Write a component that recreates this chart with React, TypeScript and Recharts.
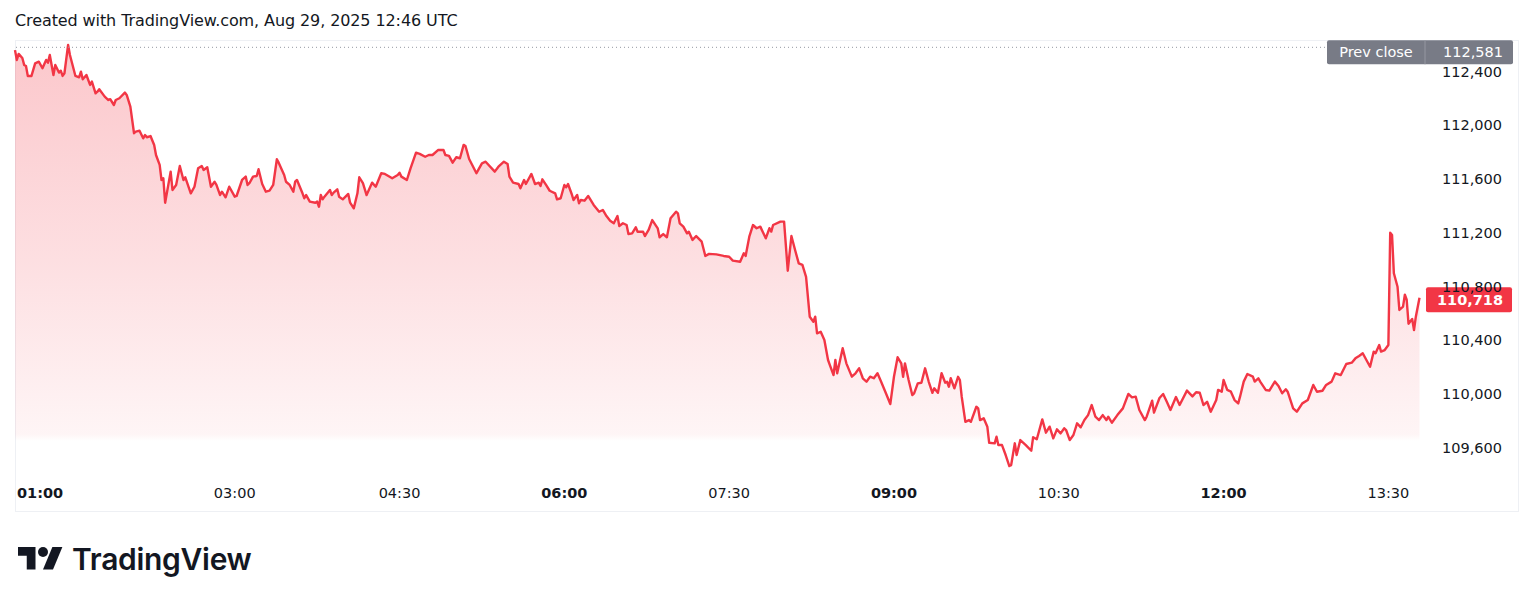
import React from "react";
import { AreaChart, Area, XAxis, YAxis, ReferenceLine } from "recharts";

// minutes since midnight (UTC+1 session clock)
const times = [
  60, 61, 62, 64, 65, 66, 67, 69, 71, 73,
  75, 77, 78, 79, 81, 82, 84, 85, 86, 87,
  89, 90, 93, 95, 96, 97, 99, 101, 102, 104,
  105, 106, 109, 111, 112, 114, 115, 117, 120, 121,
  123, 125, 126, 128, 130, 131, 132, 134, 136, 137,
  139, 140, 141, 142, 145, 146, 148, 150, 152, 153,
  156, 158, 160, 162, 163, 165, 167, 169, 170, 172,
  173, 175, 177, 180, 181, 184, 186, 187, 188, 190,
  192, 193, 195, 197, 199, 201, 203, 204, 207, 208,
  210, 212, 213, 214, 217, 218, 219, 221, 224, 225,
  226, 227, 228, 229, 232, 233, 234, 236, 237, 239,
  242, 243, 245, 247, 248, 250, 252, 255, 257, 260,
  262, 266, 269, 270, 271, 274, 276, 279, 281, 284,
  286, 288, 291, 294, 295, 297, 299, 301, 303, 305,
  306, 308, 312, 313, 315, 317, 322, 324, 327, 329,
  330, 332, 335, 336, 338, 339, 342, 344, 346, 347,
  348, 350, 352, 355, 356, 358, 360, 361, 362, 364,
  365, 367, 368, 369, 371, 373, 376, 379, 381, 383,
  385, 387, 389, 390, 392, 394, 395, 397, 399, 400,
  403, 404, 406, 408, 411, 412, 414, 416, 418, 421,
  422, 423, 425, 427, 428, 430, 432, 435, 437, 439,
  443, 447, 450, 452, 456, 458, 459, 461, 463, 465,
  467, 470, 472, 473, 474, 478, 480, 482, 484, 486,
  488, 490, 492, 494, 496, 497, 498, 500, 502, 504,
  505, 507, 508, 509, 512, 514, 517, 519, 521, 523,
  525, 527, 529, 531, 533, 536, 538, 540, 542, 544,
  545, 546, 548, 550, 551, 553, 555, 557, 559, 561,
  562, 564, 566, 568, 569, 570, 571, 573, 575, 576,
  577, 579, 581, 582, 585, 586, 587, 589, 591, 592,
  595, 596, 597, 599, 601, 603, 604, 606, 607, 609,
  612, 615, 616, 618, 621, 623, 625, 627, 629, 631,
  633, 634, 636, 638, 640, 642, 644, 646, 648, 650,
  652, 654, 656, 657, 659, 662, 665, 668, 670, 672,
  674, 677, 678, 681, 682, 685, 687, 689, 691, 694,
  696, 700, 703, 705, 707, 709, 711, 713, 716, 717,
  719, 720, 722, 724, 726, 728, 729, 731, 733, 736,
  737, 739, 740, 743, 745, 748, 750, 752, 754, 755,
  758, 760, 763, 766, 769, 771, 774, 776, 779, 781,
  784, 787, 790, 792, 794, 796, 798, 800, 802, 803,
  805, 806, 808, 810, 811, 812, 813, 815, 816, 818,
  819, 820, 821, 823, 824, 825, 827,
];

const prices = [
  112560, 112487, 112532, 112502, 112450, 112442, 112368, 112368, 112462, 112474,
  112425, 112487, 112467, 112524, 112375, 112450, 112393, 112407, 112368, 112388,
  112599, 112524, 112368, 112358, 112400, 112343, 112375, 112301, 112326, 112239,
  112251, 112269, 112214, 112189, 112195, 112152, 112189, 112202, 112244, 112227,
  112140, 111942, 111954, 111961, 111904, 111929, 111912, 111921, 111854, 111780,
  111706, 111594, 111607, 111425, 111656, 111520, 111557, 111698, 111594, 111614,
  111495, 111544, 111681, 111698, 111669, 111689, 111544, 111581, 111557, 111482,
  111507, 111465, 111544, 111470, 111475, 111594, 111619, 111557, 111570, 111619,
  111624, 111674, 111564, 111507, 111515, 111557, 111748, 111723, 111631, 111581,
  111557, 111507, 111581, 111594, 111495, 111458, 111482, 111433, 111425, 111433,
  111395, 111482, 111450, 111470, 111520, 111482, 111500, 111525, 111470, 111450,
  111490, 111425, 111383, 111495, 111614, 111570, 111482, 111574, 111544, 111644,
  111639, 111607, 111631, 111648, 111619, 111594, 111681, 111797, 111788, 111767,
  111780, 111780, 111817, 111817, 111780, 111773, 111723, 111763, 111756, 111855,
  111847, 111750, 111644, 111669, 111718, 111730, 111656, 111693, 111730, 111713,
  111619, 111574, 111564, 111532, 111594, 111564, 111639, 111564, 111574, 111549,
  111599, 111557, 111514, 111495, 111450, 111458, 111557, 111540, 111564, 111490,
  111445, 111482, 111421, 111445, 111440, 111475, 111408, 111358, 111371, 111326,
  111291, 111272, 111326, 111252, 111272, 111259, 111192, 111197, 111242, 111209,
  111209, 111177, 111222, 111296, 111234, 111168, 111192, 111168, 111309, 111358,
  111346, 111272, 111247, 111197, 111209, 111148, 111177, 111135, 111029, 111044,
  111041, 111029, 111023, 110994, 110986, 111049, 111029, 111172, 111259, 111235,
  111247, 111160, 111235, 111210, 111259, 111284, 111284, 110919, 111177, 111073,
  110974, 110962, 110874, 110577, 110540, 110577, 110453, 110465, 110404, 110255,
  110217, 110143, 110255, 110156, 110342, 110230, 110131, 110156, 110193, 110119,
  110093, 110131, 110119, 110156, 110093, 109994, 109927, 110130, 110275, 110230,
  110130, 110230, 110106, 109994, 110007, 110081, 110086, 110193, 110093, 110011,
  110044, 110011, 110156, 110086, 110093, 110056, 110119, 110044, 110130, 110106,
  109982, 109795, 109808, 109795, 109907, 109895, 109808, 109821, 109758, 109639,
  109635, 109684, 109622, 109622, 109548, 109466, 109473, 109635, 109548, 109659,
  109622, 109580, 109680, 109665, 109813, 109714, 109759, 109672, 109739, 109709,
  109747, 109734, 109659, 109697, 109784, 109754, 109808, 109845, 109920, 109833,
  109808, 109845, 109808, 109833, 109788, 109845, 109895, 110002, 109977, 109982,
  109883, 109808, 109833, 109952, 109863, 109972, 110002, 109944, 109883, 109979,
  109920, 110027, 109984, 110015, 110011, 109920, 109944, 109870, 109957, 110032,
  110019, 110106, 110032, 110019, 109957, 109932, 109982, 110094, 110151, 110131,
  110094, 110119, 110094, 110032, 110027, 110094, 110061, 110007, 110037, 110019,
  109895, 109870, 109932, 109957, 110069, 110019, 110026, 110069, 110094, 110156,
  110143, 110225, 110235, 110267, 110285, 110305, 110255, 110205, 110317, 110305,
  110366, 110317, 110329, 110366, 111202, 111185, 110900, 110800, 110627, 110652,
  110740, 110703, 110525, 110560, 110478, 110577, 110718,
];

const timeTicks = [60, 180, 270, 360, 450, 540, 630, 720, 810];
const boldTimeTicks = [60, 360, 540, 720];
const priceTicks = [109600, 110000, 110400, 110800, 111200, 111600, 112000, 112400];
const prevClose = 112581;
const lastPrice = 110718;

const RED = "#F23645";
const TEXT = "#131722";
const FONT = "'DejaVu Sans', sans-serif";

const data = times.map((t, i) => ({ t, p: prices[i] }));

const fmtTime = (m: number) =>
  `${String(Math.floor(m / 60)).padStart(2, "0")}:${String(m % 60).padStart(2, "0")}`;
const fmtPrice = (v: number) => v.toLocaleString("en-US");

function TimeTick(props: any) {
  const { x, y, payload, index } = props;
  const v = payload.value as number;
  const first = index === 0;
  return (
    <text
      x={first ? x + 2 : x}
      y={y + 20}
      textAnchor={first ? "start" : "middle"}
      fontFamily={FONT}
      fontSize={14.5}
      fontWeight={boldTimeTicks.includes(v) ? 700 : 400}
      fill={TEXT}
    >
      {fmtTime(v)}
    </text>
  );
}

function PriceTick(props: any) {
  const { y, payload } = props;
  return (
    <text x={1502} y={y + 5} textAnchor="end" fontFamily={FONT} fontSize={14.5} fill={TEXT}>
      {fmtPrice(payload.value)}
    </text>
  );
}

function PrevCloseBadge(props: any) {
  const { viewBox } = props;
  const right = viewBox.x + viewBox.width;
  const cy = viewBox.y + 5;
  return (
    <g>
      <rect x={right - 98} y={cy - 12} width={186} height={24} rx={2} fill="#787B86" />
      <line x1={right} x2={right} y1={cy - 12} y2={cy + 12} stroke="#9598A1" />
      <text x={right - 49} y={cy + 5} textAnchor="middle" fontFamily={FONT} fontSize={14.5} fill="#fff">
        Prev close
      </text>
      <text x={right + 78} y={cy + 5} textAnchor="end" fontFamily={FONT} fontSize={14.5} fill="#fff">
        {fmtPrice(prevClose)}
      </text>
    </g>
  );
}

function LastBadge(props: any) {
  const { viewBox } = props;
  const right = viewBox.x + viewBox.width;
  const cy = viewBox.y + 2;
  return (
    <g>
      <rect x={right + 1} y={cy - 12.5} width={86} height={25} rx={2} fill={RED} />
      <text x={right + 78} y={cy + 5} textAnchor="end" fontFamily={FONT} fontSize={14.5} fontWeight={700} fill="#fff">
        {fmtPrice(lastPrice)}
      </text>
    </g>
  );
}

function Logo() {
  return (
    <div style={{ position: "absolute", left: 18, top: 541, display: "flex", alignItems: "center" }}>
      <svg width={45} height={35} viewBox="0 0 36 28">
        <path d="M14 22H7V11H0V4h14v18z" fill={TEXT} />
        <circle cx={20} cy={8} r={4} fill={TEXT} />
        <path d="M28 22h-8l7.5-18h8L28 22z" fill={TEXT} />
      </svg>
      <span
        style={{
          marginLeft: 9,
          fontFamily: "Inter, sans-serif",
          fontWeight: 600,
          fontSize: 30,
          color: TEXT,
          letterSpacing: -0.3,
        }}
      >
        TradingView
      </span>
    </div>
  );
}

export default function App() {
  return (
    <div style={{ position: "absolute", left: 0, top: 0, width: 1536, height: 602, background: "#fff", overflow: "hidden" }}>
      <div
        style={{
          position: "absolute",
          left: 15,
          top: 40,
          width: 1504,
          height: 472,
          border: "1px solid #EEF0F4",
          boxSizing: "border-box",
        }}
      />
      <div
        style={{
          position: "absolute",
          left: 15,
          top: 11,
          fontFamily: FONT,
          fontSize: 16,
          letterSpacing: -0.1,
          color: TEXT,
          whiteSpace: "nowrap",
        }}
      >
        Created with TradingView.com, Aug 29, 2025 12:46 UTC
      </div>
      <div style={{ position: "absolute", left: 0, top: 0 }}>
        <AreaChart width={1536} height={602} data={data} margin={{ top: 41, right: 0, bottom: 89, left: 15 }}>
          <defs>
            <linearGradient id="fillGrad" gradientUnits="userSpaceOnUse" x1={0} y1={41} x2={0} y2={478}>
              <stop offset="0" stopColor={RED} stopOpacity={0.28} />
              <stop offset="0.5" stopColor={RED} stopOpacity={0.16} />
              <stop offset="0.9" stopColor={RED} stopOpacity={0.05} />
              <stop offset="0.915" stopColor={RED} stopOpacity={0} />
              <stop offset="1" stopColor={RED} stopOpacity={0} />
            </linearGradient>
          </defs>
          <XAxis
            dataKey="t"
            type="number"
            domain={[60, 830]}
            ticks={timeTicks}
            interval={0}
            axisLine={false}
            tickLine={false}
            tickSize={0}
            tickMargin={0}
            height={35}
            tick={<TimeTick />}
          />
          <YAxis
            orientation="right"
            type="number"
            domain={[109377, 112628]}
            allowDataOverflow
            ticks={priceTicks}
            interval={0}
            axisLine={false}
            tickLine={false}
            tickSize={0}
            tickMargin={0}
            width={111}
            tick={<PriceTick />}
          />
          <Area
            type="linear"
            dataKey="p"
            stroke={RED}
            strokeWidth={2.4}
            strokeLinejoin="round"
            fill="url(#fillGrad)"
            fillOpacity={1}
            dot={false}
            activeDot={false}
            isAnimationActive={false}
          />
          <ReferenceLine
            y={prevClose}
            stroke="#9598A1"
            strokeDasharray="1 3"
            strokeWidth={1}
            label={<PrevCloseBadge />}
          />
          <ReferenceLine y={lastPrice} stroke="none" strokeOpacity={0} label={<LastBadge />} />
        </AreaChart>
      </div>
      <Logo />
    </div>
  );
}
